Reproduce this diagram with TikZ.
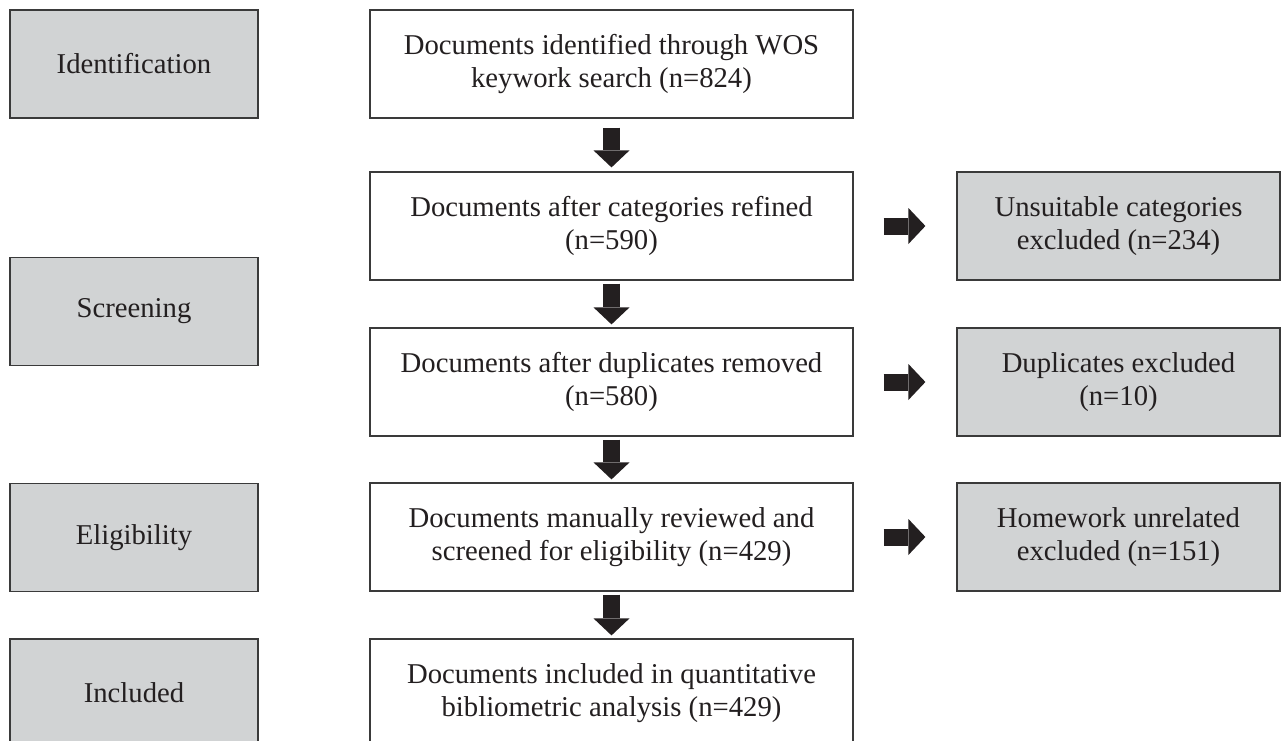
\documentclass[tikz,border=0pt]{standalone}
\usepackage{fontspec}
\setmainfont{Liberation Serif}
\usetikzlibrary{arrows.meta}
\definecolor{boxgray}{HTML}{D1D3D4}
\definecolor{ink}{HTML}{231F20}
\definecolor{edge}{HTML}{3A3A3A}
\begin{document}
\begin{tikzpicture}[x=1pt,y=-1pt,
  every node/.style={font=\fontsize{28.7}{33}\selectfont, text=ink, align=center, inner sep=0pt},
  box/.style={draw=edge, line width=1.2pt, minimum height=108pt},
  stage/.style={box, fill=boxgray, minimum width=248pt},
  flow/.style={box, fill=white, minimum width=483pt},
  excl/.style={box, fill=boxgray, minimum width=323pt},
  fatarrow/.style={line width=17pt, draw=ink, -{Triangle[length=17pt,width=36pt,line width=0pt]}}]
\useasboundingbox (0,0) rectangle (1285,741);
\clip (0,0) rectangle (1285,741);

% stage labels
\node[stage] (sid)  at (134,64)    {Identification};
\node[stage] (sscr) at (134,311.5) {Screening};
\node[stage] (self) at (134,537.5) {Eligibility};
\node[stage] (sinc) at (134,693)   {Included};

% main flow
\node[flow] (c1) at (611.5,64)  {Documents identified through WOS\\keywork search (n=824)};
\node[flow] (c2) at (611.5,226) {Documents after categories refined\\(n=590)};
\node[flow] (c3) at (611.5,382) {Documents after duplicates removed\\(n=580)};
\node[flow] (c4) at (611.5,537) {Documents manually reviewed and\\screened for eligibility (n=429)};
\node[flow] (c5) at (611.5,693) {Documents included in quantitative\\bibliometric analysis (n=429)};

% exclusions
\node[excl] (x1) at (1118.5,226) {Unsuitable categories\\excluded (n=234)};
\node[excl] (x2) at (1118.5,382) {Duplicates excluded\\(n=10)};
\node[excl] (x3) at (1118.5,537) {Homework unrelated\\excluded (n=151)};

% downward arrows
\draw[fatarrow] ([yshift=-9pt]c1.south) -- ([yshift=4pt]c2.north);
\draw[fatarrow] ([yshift=-3pt]c2.south) -- ([yshift=3pt]c3.north);
\draw[fatarrow] ([yshift=-3pt]c3.south) -- ([yshift=3pt]c4.north);
\draw[fatarrow] ([yshift=-3pt]c4.south) -- ([yshift=3pt]c5.north);

% side arrows
\draw[fatarrow] ([xshift=30pt]c2.east) -- ([xshift=-31pt]x1.west);
\draw[fatarrow] ([xshift=30pt]c3.east) -- ([xshift=-31pt]x2.west);
\draw[fatarrow] ([xshift=30pt]c4.east) -- ([xshift=-31pt]x3.west);
\end{tikzpicture}
\end{document}
